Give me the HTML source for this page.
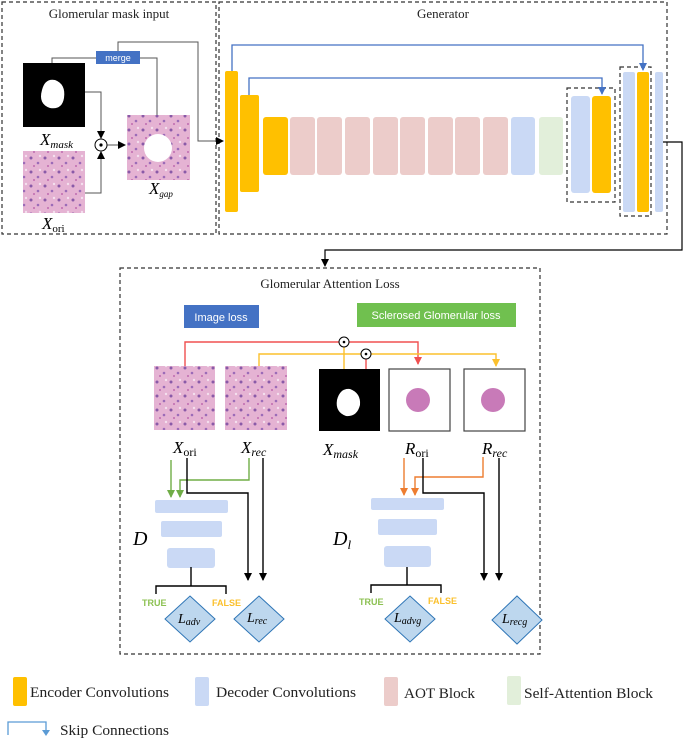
<!DOCTYPE html>
<html><head><meta charset="utf-8"><style>
html,body{margin:0;padding:0;background:#fff;}
svg{display:block;font-family:"Liberation Serif",serif;}
</style></head><body>
<svg width="685" height="739" viewBox="0 0 685 739" xmlns="http://www.w3.org/2000/svg">
<defs>
<marker id="ak" markerWidth="8" markerHeight="8" refX="7" refY="4" orient="auto" markerUnits="userSpaceOnUse"><path d="M0,0 L8,4 L0,8z" fill="#000"/></marker>
<marker id="ab" markerWidth="8" markerHeight="8" refX="7" refY="4" orient="auto" markerUnits="userSpaceOnUse"><path d="M0,0 L8,4 L0,8z" fill="#4472c4"/></marker>
<marker id="ar" markerWidth="8" markerHeight="8" refX="7" refY="4" orient="auto" markerUnits="userSpaceOnUse"><path d="M0,0 L8,4 L0,8z" fill="#f05050"/></marker>
<marker id="ay" markerWidth="8" markerHeight="8" refX="7" refY="4" orient="auto" markerUnits="userSpaceOnUse"><path d="M0,0 L8,4 L0,8z" fill="#fbc02d"/></marker>
<marker id="ag" markerWidth="8" markerHeight="8" refX="7" refY="4" orient="auto" markerUnits="userSpaceOnUse"><path d="M0,0 L8,4 L0,8z" fill="#70ad47"/></marker>
<marker id="ao" markerWidth="8" markerHeight="8" refX="7" refY="4" orient="auto" markerUnits="userSpaceOnUse"><path d="M0,0 L8,4 L0,8z" fill="#ed7d31"/></marker>
<pattern id="tis" width="14" height="14" patternUnits="userSpaceOnUse">
<rect width="14" height="14" fill="#e5b3d3"/>
<circle cx="3" cy="4" r="1.5" fill="#8a5aa8"/><circle cx="10" cy="9" r="1.3" fill="#9b6bb8"/><circle cx="6" cy="12" r="1" fill="#c06bb0"/><circle cx="12" cy="2" r="1.2" fill="#f4e0ee"/>
</pattern>
</defs>
<g fill="none" stroke="#333" stroke-dasharray="4,3" stroke-width="1.2">
<rect x="2" y="2" width="214" height="232"/>
<rect x="219" y="2" width="448" height="232"/>
<rect x="120" y="268" width="420" height="386"/>
<rect x="567" y="88" width="48" height="114"/>
<rect x="620" y="67" width="31" height="149"/>
</g>
<g font-size="13" fill="#222">
<text x="109" y="18" text-anchor="middle">Glomerular mask input</text>
<text x="443" y="18" text-anchor="middle">Generator</text>
<text x="330" y="288" text-anchor="middle">Glomerular Attention Loss</text>
</g>
<!-- left panel -->
<rect x="23" y="63" width="62" height="64" fill="#000"/>
<path d="M42,90 Q45,78 55,80 Q66,84 64,98 Q62,110 50,108 Q38,104 42,90z" fill="#fff"/>
<rect x="23" y="151" width="62" height="62" fill="url(#tis)"/>
<rect x="127" y="115" width="63" height="65" fill="url(#tis)"/>
<circle cx="158" cy="148" r="14" fill="#fff"/>
<g font-style="italic" font-size="17" fill="#000">
<text x="40" y="145">X<tspan font-size="11" dy="3">mask</tspan></text>
<text x="42" y="229">X<tspan font-size="11" dy="3" font-style="normal">ori</tspan></text>
<text x="149" y="194">X<tspan font-size="9" dy="3">gap</tspan></text>
</g>
<g stroke="#555" fill="none" stroke-width="1">
<polyline points="52,63 52,58 96,58"/>
<polyline points="140,58 157,58 157,115"/>
<polyline points="118,51 118,42 198,42 198,141 223,141" stroke="#555" marker-end="url(#ak)"/>
<polyline points="85,92 101,92 101,138" marker-end="url(#ak)"/>
<polyline points="85,193 101,193 101,152" marker-end="url(#ak)"/>
<line x1="106" y1="145" x2="125" y2="145" marker-end="url(#ak)"/>
</g>
<circle cx="101" cy="145" r="6" fill="#fff" stroke="#000"/><circle cx="101" cy="145" r="1.6" fill="#000"/>
<rect x="96" y="51" width="44" height="13" fill="#4472c4"/>
<text x="118" y="61" font-family="Liberation Sans,sans-serif" font-size="9" fill="#fff" text-anchor="middle">merge</text>
<!-- generator -->
<g fill="#ffc000">
<rect x="225" y="71" width="13" height="141" rx="2"/>
<rect x="240" y="95" width="19" height="97" rx="2"/>
<rect x="263" y="117" width="25" height="58" rx="3"/>
<rect x="592" y="96" width="19" height="97" rx="3"/>
<rect x="637" y="72" width="12" height="140" rx="2"/>
</g>
<g fill="#ecccca">
<rect x="290" y="117" width="25" height="58" rx="3"/><rect x="317" y="117" width="25" height="58" rx="3"/>
<rect x="345" y="117" width="25" height="58" rx="3"/><rect x="373" y="117" width="25" height="58" rx="3"/>
<rect x="400" y="117" width="25" height="58" rx="3"/><rect x="428" y="117" width="25" height="58" rx="3"/>
<rect x="455" y="117" width="25" height="58" rx="3"/><rect x="483" y="117" width="25" height="58" rx="3"/>
</g>
<g fill="#cad9f5">
<rect x="511" y="117" width="24" height="58" rx="3"/>
<rect x="571" y="96" width="19" height="97" rx="3"/>
<rect x="623" y="72" width="12" height="140" rx="2"/>
<rect x="655" y="72" width="8" height="140" rx="2"/>
</g>
<rect x="539" y="117" width="24" height="58" rx="3" fill="#e2efda"/>
<g stroke="#4472c4" fill="none" stroke-width="1.3">
<polyline points="232,71 232,45 643,45 643,70" marker-end="url(#ab)"/>
<polyline points="249,95 249,78 602,78 602,94" marker-end="url(#ab)"/>
</g>
<polyline points="663,142 682,142 682,250 325,250 325,266" fill="none" stroke="#000" stroke-width="1.2" marker-end="url(#ak)"/>
<!-- bottom -->
<rect x="184" y="305" width="75" height="23" fill="#4472c4"/>
<text x="221" y="321" font-family="Liberation Sans,sans-serif" font-size="11" fill="#fff" text-anchor="middle">Image loss</text>
<rect x="357" y="303" width="159" height="24" fill="#70c04f"/>
<text x="436" y="319" font-family="Liberation Sans,sans-serif" font-size="11" fill="#fff" text-anchor="middle">Sclerosed Glomerular loss</text>
<rect x="154" y="366" width="61" height="64" fill="url(#tis)"/>
<rect x="225" y="366" width="62" height="64" fill="url(#tis)"/>
<rect x="319" y="369" width="61" height="62" fill="#000"/>
<path d="M337,400 Q340,388 350,389 Q361,393 360,405 Q357,417 346,416 Q335,412 337,400z" fill="#fff"/>
<rect x="389" y="369" width="61" height="62" fill="#fff" stroke="#444" stroke-width="1.2"/>
<rect x="464" y="369" width="61" height="62" fill="#fff" stroke="#444" stroke-width="1.2"/>
<circle cx="418" cy="400" r="12" fill="#c87ab8"/><circle cx="493" cy="400" r="12" fill="#c87ab8"/>
<g stroke-width="1.4" fill="none">
<polyline points="185,366 185,342 418,342 418,364" stroke="#f05050" marker-end="url(#ar)"/>
<line x1="366" y1="359" x2="366" y2="369" stroke="#f05050"/>
<polyline points="259,366 259,354 496,354 496,366" stroke="#fbc02d" marker-end="url(#ay)"/>
<line x1="344" y1="347" x2="344" y2="369" stroke="#fbc02d"/>
</g>
<circle cx="344" cy="342" r="5" fill="#fff" stroke="#000"/><circle cx="344" cy="342" r="1.3" fill="#000"/>
<circle cx="366" cy="354" r="5" fill="#fff" stroke="#000"/><circle cx="366" cy="354" r="1.3" fill="#000"/>
<g font-style="italic" font-size="17" fill="#000">
<text x="173" y="453">X<tspan font-size="12" dy="3" font-style="normal">ori</tspan></text>
<text x="241" y="453">X<tspan font-size="12" dy="3">rec</tspan></text>
<text x="323" y="455">X<tspan font-size="12" dy="3">mask</tspan></text>
<text x="405" y="454">R<tspan font-size="12" dy="3" font-style="normal">ori</tspan></text>
<text x="482" y="454">R<tspan font-size="12" dy="3">rec</tspan></text>
<text x="133" y="545" font-size="20">D</text>
<text x="333" y="545" font-size="20">D<tspan font-size="13" dy="4">l</tspan></text>
</g>
<g fill="#cad9f5">
<rect x="155" y="500" width="73" height="13" rx="2"/><rect x="161" y="521" width="61" height="16" rx="2"/><rect x="167" y="548" width="48" height="20" rx="3"/>
<rect x="371" y="498" width="73" height="12" rx="2"/><rect x="378" y="519" width="59" height="16" rx="2"/><rect x="384" y="546" width="47" height="21" rx="3"/>
</g>
<g stroke-width="1.4" fill="none">
<line x1="171" y1="460" x2="171" y2="497" stroke="#70ad47" marker-end="url(#ag)"/>
<polyline points="249,458 249,480 180,480 180,497" stroke="#70ad47" marker-end="url(#ag)"/>
<line x1="404" y1="458" x2="404" y2="495" stroke="#ed7d31" marker-end="url(#ao)"/>
<polyline points="483,457 483,477 415,477 415,495" stroke="#ed7d31" marker-end="url(#ao)"/>
<g stroke="#000">
<polyline points="187,458 187,493 248,493 248,580" marker-end="url(#ak)"/>
<line x1="263" y1="458" x2="263" y2="580" marker-end="url(#ak)"/>
<polyline points="423,458 423,493 484,493 484,580" marker-end="url(#ak)"/>
<line x1="499" y1="458" x2="499" y2="580" marker-end="url(#ak)"/>
<polyline points="191,567 191,586"/><polyline points="156,594 156,586 226,586 226,594"/>
<polyline points="407,567 407,585"/><polyline points="371,593 371,585 441,585 441,593"/>
</g>
</g>
<g font-family="Liberation Sans,sans-serif" font-size="9" font-weight="bold">
<text x="142" y="606" fill="#8cc152">TRUE</text><text x="212" y="606" fill="#fbc02d">FALSE</text>
<text x="359" y="605" fill="#8cc152">TRUE</text><text x="428" y="604" fill="#fbc02d">FALSE</text>
</g>
<g fill="#bdd7ee" stroke="#2e75b6" stroke-width="1">
<path d="M190,596 L215,619 L190,642 L165,619z"/>
<path d="M259,596 L284,619 L259,642 L234,619z"/>
<path d="M410,596 L435,619 L410,642 L385,619z"/>
<path d="M517,596 L542,620 L517,644 L492,620z"/>
</g>
<g font-style="italic" font-size="14" fill="#000">
<text x="178" y="623">L<tspan font-size="10" dy="2">adv</tspan></text>
<text x="247" y="622">L<tspan font-size="10" dy="2">rec</tspan></text>
<text x="394" y="622">L<tspan font-size="10" dy="2">advg</tspan></text>
<text x="502" y="623">L<tspan font-size="10" dy="2">recg</tspan></text>
</g>
<!-- legend -->
<rect x="13" y="677" width="14" height="29" rx="2" fill="#ffc000"/>
<rect x="195" y="677" width="14" height="29" rx="2" fill="#cad9f5"/>
<rect x="384" y="677" width="14" height="29" rx="2" fill="#ecccca"/>
<rect x="507" y="676" width="14" height="29" rx="2" fill="#e2efda"/>
<g font-size="15" fill="#222">
<text x="30" y="697" textLength="139" lengthAdjust="spacingAndGlyphs">Encoder Convolutions</text>
<text x="216" y="697" textLength="140" lengthAdjust="spacingAndGlyphs">Decoder Convolutions</text>
<text x="404" y="698" textLength="71" lengthAdjust="spacingAndGlyphs">AOT Block</text>
<text x="524" y="698" textLength="129" lengthAdjust="spacingAndGlyphs">Self-Attention Block</text>
<text x="60" y="735" textLength="109" lengthAdjust="spacingAndGlyphs">Skip Connections</text>
</g>
<polyline points="8,735 8,722 46,722 46,731" fill="none" stroke="#5b9bd5" stroke-width="1.3"/>
<path d="M42,730 L50,730 L46,736z" fill="#5b9bd5"/>
</svg>
</body></html>
